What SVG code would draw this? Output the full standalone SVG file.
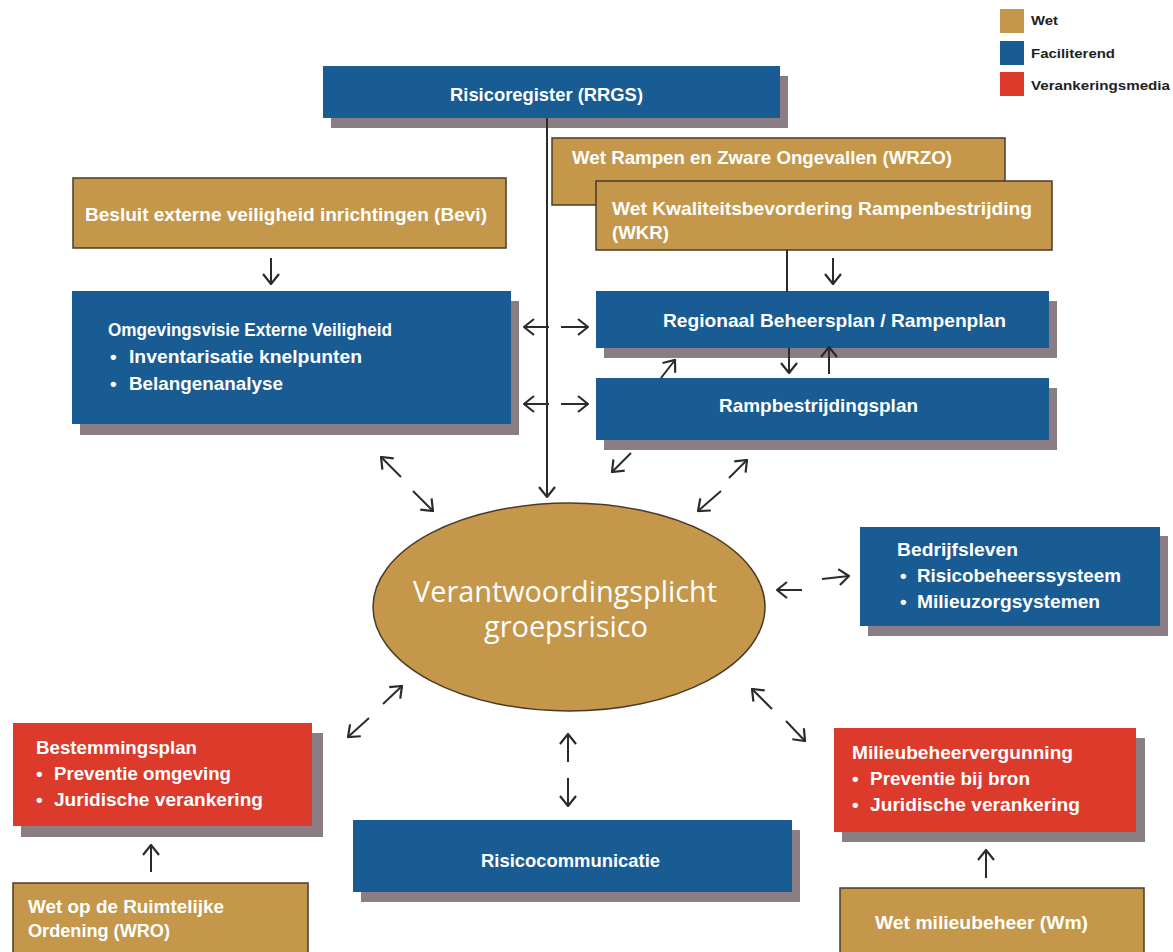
<svg xmlns="http://www.w3.org/2000/svg" width="1173" height="952" viewBox="0 0 1173 952">
<style>
.gold{fill:#c4974a;stroke:#4a3b28;stroke-width:1.5}
.blue{fill:#195b93}
.red{fill:#dc3a2b}
.sh{fill:#8a7d84}
.t{font-family:"Liberation Sans",Arial,sans-serif;font-weight:bold;fill:#fff;font-size:19px}
.lg{font-family:"Liberation Sans",Arial,sans-serif;font-weight:bold;fill:#222;font-size:13px}
.el{font-family:"Open Sans","Liberation Sans",sans-serif;fill:#fff;font-size:29px}
.c{fill:none;stroke:#2b2b2b;stroke-width:2}
.a{fill:none;stroke:#2b2b2b;stroke-width:2;marker-end:url(#ah)}
</style>
<defs>
<marker id="ah" viewBox="0 0 12 20" refX="11" refY="10" markerWidth="12" markerHeight="20" markerUnits="userSpaceOnUse" orient="auto">
<path d="M1,2 L11,10 L1,18" fill="none" stroke="#2b2b2b" stroke-width="2.2"/>
</marker>
</defs>
<rect width="1173" height="952" fill="#fff"/>

<g id="legend">
<rect x="1000" y="9" width="24" height="24" fill="#c4974a"/>
<rect x="1000" y="41" width="24" height="24" fill="#195b93"/>
<rect x="1000" y="72" width="24" height="24" fill="#dc3a2b"/>
<text class="lg" x="1031" y="25" textLength="27" lengthAdjust="spacingAndGlyphs">Wet</text>
<text class="lg" x="1031" y="58" textLength="84" lengthAdjust="spacingAndGlyphs">Faciliterend</text>
<text class="lg" x="1031" y="90" textLength="139" lengthAdjust="spacingAndGlyphs">Verankeringsmedia</text>
</g>

<g id="risicoregister">
<rect class="sh" x="331" y="76" width="457" height="52"/>
<rect class="blue" x="323" y="66" width="457" height="52"/>
<text class="t" x="450" y="101" textLength="193" lengthAdjust="spacingAndGlyphs">Risicoregister (RRGS)</text>
</g>

<g id="wrzo">
<rect class="gold" x="552" y="138" width="453" height="67"/>
<text class="t" x="572" y="164" textLength="380" lengthAdjust="spacingAndGlyphs">Wet Rampen en Zware Ongevallen (WRZO)</text>
</g>

<g id="wkr">
<rect class="gold" x="596" y="181" width="456" height="69"/>
<text class="t" x="612" y="215" textLength="420" lengthAdjust="spacingAndGlyphs">Wet Kwaliteitsbevordering Rampenbestrijding</text>
<text class="t" x="612" y="239" textLength="57" lengthAdjust="spacingAndGlyphs">(WKR)</text>
</g>

<g id="bevi">
<rect class="gold" x="73" y="178" width="433" height="70"/>
<text class="t" x="85" y="221" textLength="402" lengthAdjust="spacingAndGlyphs">Besluit externe veiligheid inrichtingen (Bevi)</text>
</g>

<g id="omgevingsvisie">
<rect class="sh" x="80" y="301" width="439" height="134"/>
<rect class="blue" x="72" y="291" width="439" height="133"/>
<text class="t" x="108" y="336" textLength="284" lengthAdjust="spacingAndGlyphs">Omgevingsvisie Externe Veiligheid</text>
<text class="t" x="110" y="363">•</text>
<text class="t" x="129" y="363" textLength="233" lengthAdjust="spacingAndGlyphs">Inventarisatie knelpunten</text>
<text class="t" x="110" y="390">•</text>
<text class="t" x="129" y="390" textLength="154" lengthAdjust="spacingAndGlyphs">Belangenanalyse</text>
</g>

<g id="regionaal">
<rect class="sh" x="604" y="301" width="453" height="57"/>
<rect class="blue" x="596" y="291" width="453" height="57"/>
<text class="t" x="663" y="327" textLength="343" lengthAdjust="spacingAndGlyphs">Regionaal Beheersplan / Rampenplan</text>
</g>

<g id="rampbestrijdingsplan">
<rect class="sh" x="604" y="388" width="453" height="62"/>
<rect class="blue" x="596" y="378" width="453" height="62"/>
<text class="t" x="719" y="412" textLength="199" lengthAdjust="spacingAndGlyphs">Rampbestrijdingsplan</text>
</g>

<g id="verantwoordingsplicht">
<ellipse cx="569" cy="607" rx="196" ry="104" fill="#c4974a" stroke="#4a3b28" stroke-width="1.5"/>
<text class="el" x="413" y="602" textLength="304" lengthAdjust="spacingAndGlyphs">Verantwoordingsplicht</text>
<text class="el" x="484" y="637" textLength="164" lengthAdjust="spacingAndGlyphs">groepsrisico</text>
</g>

<g id="bedrijfsleven">
<rect class="sh" x="868" y="536" width="300" height="100"/>
<rect class="blue" x="860" y="527" width="300" height="99"/>
<text class="t" x="897" y="556" textLength="121" lengthAdjust="spacingAndGlyphs">Bedrijfsleven</text>
<text class="t" x="900" y="582">•</text>
<text class="t" x="917" y="582" textLength="204" lengthAdjust="spacingAndGlyphs">Risicobeheerssysteem</text>
<text class="t" x="900" y="608">•</text>
<text class="t" x="917" y="608" textLength="183" lengthAdjust="spacingAndGlyphs">Milieuzorgsystemen</text>
</g>

<g id="bestemmingsplan">
<rect class="sh" x="21" y="733" width="302" height="104"/>
<rect class="red" x="13" y="723" width="299" height="103"/>
<text class="t" x="36" y="754" textLength="161" lengthAdjust="spacingAndGlyphs">Bestemmingsplan</text>
<text class="t" x="36" y="780">•</text>
<text class="t" x="54" y="780" textLength="177" lengthAdjust="spacingAndGlyphs">Preventie omgeving</text>
<text class="t" x="36" y="806">•</text>
<text class="t" x="54" y="806" textLength="209" lengthAdjust="spacingAndGlyphs">Juridische verankering</text>
</g>

<g id="wro">
<rect class="gold" x="13" y="883" width="295" height="75"/>
<text class="t" x="28" y="913" textLength="196" lengthAdjust="spacingAndGlyphs">Wet op de Ruimtelijke</text>
<text class="t" x="28" y="937" textLength="142" lengthAdjust="spacingAndGlyphs">Ordening (WRO)</text>
</g>

<g id="risicocommunicatie">
<rect class="sh" x="361" y="830" width="439" height="72"/>
<rect class="blue" x="353" y="820" width="439" height="72"/>
<text class="t" x="481" y="867" textLength="179" lengthAdjust="spacingAndGlyphs">Risicocommunicatie</text>
</g>

<g id="milieubeheervergunning">
<rect class="sh" x="842" y="738" width="303" height="104"/>
<rect class="red" x="834" y="728" width="302" height="104"/>
<text class="t" x="852" y="759" textLength="221" lengthAdjust="spacingAndGlyphs">Milieubeheervergunning</text>
<text class="t" x="852" y="785">•</text>
<text class="t" x="870" y="785" textLength="160" lengthAdjust="spacingAndGlyphs">Preventie bij bron</text>
<text class="t" x="852" y="811">•</text>
<text class="t" x="870" y="811" textLength="210" lengthAdjust="spacingAndGlyphs">Juridische verankering</text>
</g>

<g id="wm">
<rect class="gold" x="840" y="888" width="304" height="70"/>
<text class="t" x="875" y="929" textLength="213" lengthAdjust="spacingAndGlyphs">Wet milieubeheer (Wm)</text>
</g>

<g id="connectors">
<path class="a" d="M547,118 V497"/>
<path class="c" d="M787,250 V292"/>
<path class="a" d="M271,258 V284"/>
<path class="a" d="M833,258 V284"/>
<path class="a" d="M549,327 H524"/>
<path class="a" d="M561,327 H588"/>
<path class="a" d="M549,404 H524"/>
<path class="a" d="M561,404 H588"/>
<path class="a" d="M789,348 V373"/>
<path class="a" d="M829,374 V347"/>
<path class="a" d="M661,378 L675,360"/>
<path class="a" d="M631,453 L612,472"/>
<path class="a" d="M729,478 L747,460"/>
<path class="a" d="M721,491 L698,511"/>
<path class="a" d="M401,477 L381,457"/>
<path class="a" d="M413,491 L433,511"/>
<path class="a" d="M802,590 H777"/>
<path class="a" d="M822,579 L849,576"/>
<path class="a" d="M383,704 L402,686"/>
<path class="a" d="M369,718 L348,737"/>
<path class="a" d="M772,709 L752,689"/>
<path class="a" d="M786,721 L805,741"/>
<path class="a" d="M568,762 V734"/>
<path class="a" d="M568,778 V806"/>
<path class="a" d="M151,872 V845"/>
<path class="a" d="M986,878 V850"/>
</g>
</svg>
